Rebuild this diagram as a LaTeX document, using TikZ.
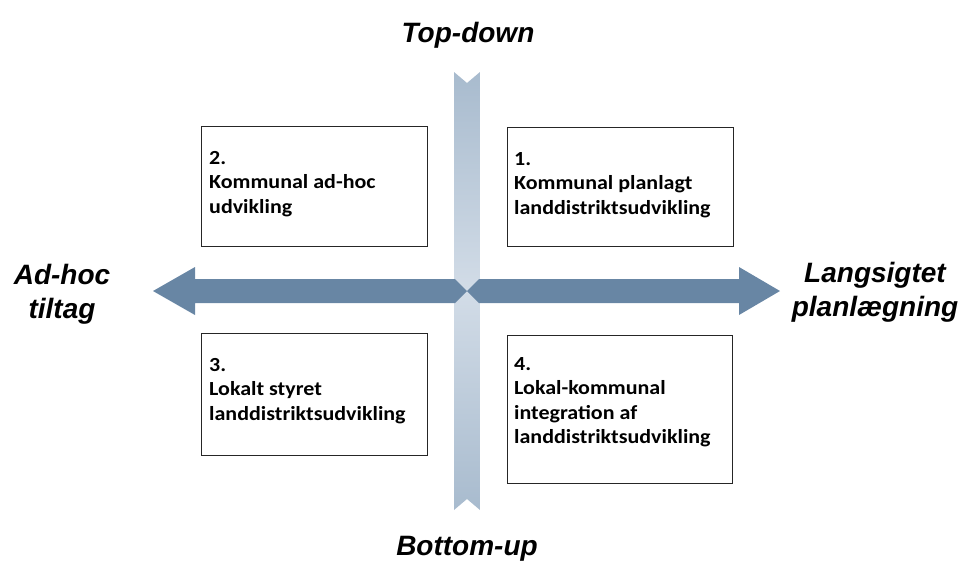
\documentclass[tikz,border=0pt]{standalone}
\usepackage{fontspec}
\setmainfont{Carlito}
\newfontfamily\boxfont[FakeStretch=1.1]{Carlito}
\newfontfamily\headfont{Liberation Sans}
\definecolor{barend}{RGB}{168,187,206}
\definecolor{barmid}{RGB}{210,220,231}
\definecolor{arrowblue}{RGB}{104,134,164}
\begin{document}
\begin{tikzpicture}[x=1pt,y=-1pt,
  qbox/.style={draw=black!85, line width=1.2pt, fill=white, rectangle, anchor=north west, inner sep=0pt},
  qtext/.style={anchor=north west, align=left, inner sep=0pt, font=\boxfont\bfseries\fontsize{20}{24.5}\selectfont},
  head/.style={anchor=base, align=center, inner sep=0pt, font=\headfont\bfseries\itshape\fontsize{28}{34}\selectfont},
  harrow/.style={fill=arrowblue, draw=none}]
\useasboundingbox (0,0) rectangle (959,560);
% vertical bar
\path[top color=barend, bottom color=barend, middle color=barmid]
  (454,72) -- (467,83) -- (480,72) -- (480,510) -- (467,499) -- (454,510) -- cycle;
\coordinate (c) at (467,291);
% horizontal arrows
\fill[harrow] (c) -- (455,279) -- (195,279) -- (195,267) -- (153,291) -- (195,315) -- (195,303) -- (455,303) -- cycle;
\fill[harrow] (c) -- (479,279) -- (739,279) -- (739,267) -- (780,291) -- (739,315) -- (739,303) -- (479,303) -- cycle;
% boxes
\node[qbox, minimum width=226pt, minimum height=120pt] (b2) at (201,126) {};
\node[qbox, minimum width=226pt, minimum height=119pt] (b1) at (507,127) {};
\node[qbox, minimum width=226pt, minimum height=122pt] (b3) at (201,333) {};
\node[qbox, minimum width=225pt, minimum height=148pt] (b4) at (507,335) {};
\node[qtext] (t2) at ([shift={(8pt,-25pt)}]b2.north west) {2.\\Kommunal ad-hoc\\udvikling};
\node[qtext] (t1) at ([shift={(7pt,-25pt)}]b1.north west) {1.\\Kommunal planlagt\\landdistriktsudvikling};
\node[qtext] (t3) at ([shift={(8pt,-25pt)}]b3.north west) {3.\\Lokalt styret\\landdistriktsudvikling};
\node[qtext] (t4) at ([shift={(7pt,-22pt)}]b4.north west) {4.\\Lokal-kommunal\\integration af\\landdistriktsudvikling};
% axis labels
\node[head] (top) at (468,42) {Top-down};
\node[head] (bot) at (467,555) {Bottom-up};
\node[head] (left) at (62,318) {Ad-hoc\\tiltag};
\node[head] (right) at (875,316) {Langsigtet\\planlægning};
\end{tikzpicture}
\end{document}
